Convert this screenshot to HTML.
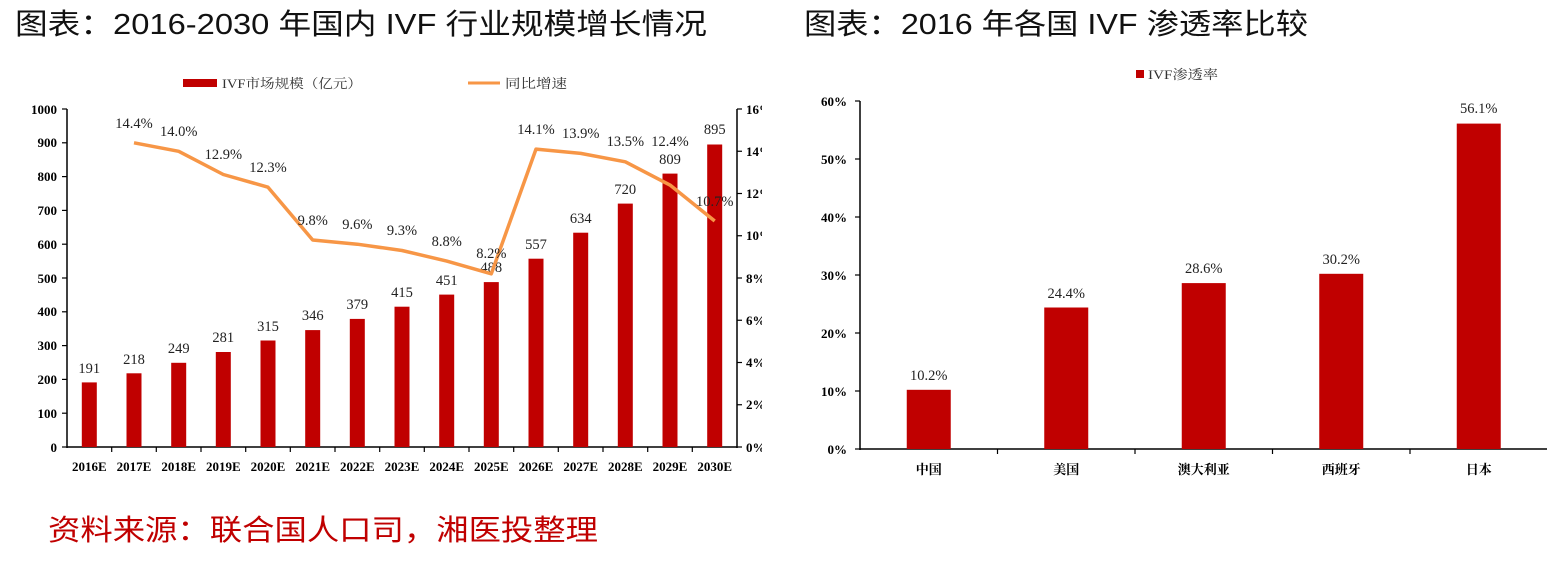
<!DOCTYPE html>
<html><head><meta charset="utf-8"><style>
body{margin:0;background:#fff;width:1556px;height:564px;overflow:hidden}
svg{display:block}
.t{font-family:"Liberation Sans","Noto Sans CJK SC",sans-serif}
.s{font-family:"Liberation Serif","Noto Serif CJK SC",serif}
.n{font-family:"Liberation Serif","Noto Serif CJK SC",serif}
</style></head><body>
<svg width="1556" height="564" xmlns="http://www.w3.org/2000/svg">
<defs><clipPath id="cl"><rect x="0" y="0" width="762" height="564"/></clipPath></defs>
<text class="t" x="15" y="34" font-size="29" fill="#111" textLength="692" lengthAdjust="spacingAndGlyphs">图表：2016-2030 年国内 IVF 行业规模增长情况</text>
<text class="t" x="804" y="34" font-size="29" fill="#111" textLength="504" lengthAdjust="spacingAndGlyphs">图表：2016 年各国 IVF 渗透率比较</text>
<text class="t" x="48" y="540" font-size="29" fill="#c00000" textLength="550" lengthAdjust="spacingAndGlyphs">资料来源：联合国人口司，湘医投整理</text>

<rect x="183" y="79" width="34" height="8" fill="#c00000"/>
<text class="s" x="222" y="88" font-size="13" fill="#333" textLength="140" lengthAdjust="spacingAndGlyphs">IVF市场规模（亿元）</text>
<line x1="468" y1="83" x2="500" y2="83" stroke="#f79646" stroke-width="3"/>
<text class="s" x="505" y="88" font-size="13" fill="#333" textLength="62" lengthAdjust="spacingAndGlyphs">同比增速</text>

<g clip-path="url(#cl)">
<g stroke="#000" stroke-width="1.5">
<line x1="67" y1="109" x2="67" y2="448"/>
<line x1="67" y1="447" x2="737" y2="447"/>
<line x1="737" y1="109" x2="737" y2="448"/>
</g>
<g stroke="#000" stroke-width="1.2">
<line x1="62" y1="447" x2="67" y2="447"/><line x1="62" y1="413.2" x2="67" y2="413.2"/><line x1="62" y1="379.4" x2="67" y2="379.4"/><line x1="62" y1="345.6" x2="67" y2="345.6"/><line x1="62" y1="311.8" x2="67" y2="311.8"/><line x1="62" y1="278" x2="67" y2="278"/><line x1="62" y1="244.2" x2="67" y2="244.2"/><line x1="62" y1="210.4" x2="67" y2="210.4"/><line x1="62" y1="176.6" x2="67" y2="176.6"/><line x1="62" y1="142.8" x2="67" y2="142.8"/><line x1="62" y1="109" x2="67" y2="109"/>
<line x1="737" y1="447" x2="742" y2="447"/><line x1="737" y1="404.75" x2="742" y2="404.75"/><line x1="737" y1="362.5" x2="742" y2="362.5"/><line x1="737" y1="320.25" x2="742" y2="320.25"/><line x1="737" y1="278" x2="742" y2="278"/><line x1="737" y1="235.75" x2="742" y2="235.75"/><line x1="737" y1="193.5" x2="742" y2="193.5"/><line x1="737" y1="151.25" x2="742" y2="151.25"/><line x1="737" y1="109" x2="742" y2="109"/>
<line x1="111.7" y1="447" x2="111.7" y2="452"/><line x1="156.3" y1="447" x2="156.3" y2="452"/><line x1="201" y1="447" x2="201" y2="452"/><line x1="245.7" y1="447" x2="245.7" y2="452"/><line x1="290.3" y1="447" x2="290.3" y2="452"/><line x1="335" y1="447" x2="335" y2="452"/><line x1="379.7" y1="447" x2="379.7" y2="452"/><line x1="424.3" y1="447" x2="424.3" y2="452"/><line x1="469" y1="447" x2="469" y2="452"/><line x1="513.7" y1="447" x2="513.7" y2="452"/><line x1="558.3" y1="447" x2="558.3" y2="452"/><line x1="603" y1="447" x2="603" y2="452"/><line x1="647.7" y1="447" x2="647.7" y2="452"/><line x1="692.3" y1="447" x2="692.3" y2="452"/>
</g>
<g class="n" font-size="13" font-weight="bold" text-anchor="end" fill="#000">
<text x="57" y="452">0</text><text x="57" y="418">100</text><text x="57" y="384">200</text><text x="57" y="350">300</text><text x="57" y="316">400</text><text x="57" y="283">500</text><text x="57" y="249">600</text><text x="57" y="215">700</text><text x="57" y="181">800</text><text x="57" y="147">900</text><text x="57" y="114">1000</text>
</g>
<g class="n" font-size="13" font-weight="bold" fill="#000">
<text x="746" y="452">0%</text><text x="746" y="409">2%</text><text x="746" y="367">4%</text><text x="746" y="325">6%</text><text x="746" y="283">8%</text><text x="746" y="240">10%</text><text x="746" y="198">12%</text><text x="746" y="156">14%</text><text x="746" y="114">16%</text>
</g>
<g class="n" font-size="13" font-weight="bold" text-anchor="middle" fill="#000">
<text x="89.3" y="471">2016E</text><text x="134" y="471">2017E</text><text x="178.7" y="471">2018E</text><text x="223.3" y="471">2019E</text><text x="268" y="471">2020E</text><text x="312.7" y="471">2021E</text><text x="357.3" y="471">2022E</text><text x="402" y="471">2023E</text><text x="446.7" y="471">2024E</text><text x="491.3" y="471">2025E</text><text x="536" y="471">2026E</text><text x="580.7" y="471">2027E</text><text x="625.3" y="471">2028E</text><text x="670" y="471">2029E</text><text x="714.7" y="471">2030E</text>
</g>
<g fill="#c00000">
<rect x="81.8" y="382.4" width="15" height="64.6"/><rect x="126.5" y="373.3" width="15" height="73.7"/><rect x="171.2" y="362.8" width="15" height="84.2"/><rect x="215.8" y="352" width="15" height="95"/><rect x="260.5" y="340.5" width="15" height="106.5"/><rect x="305.2" y="330.1" width="15" height="116.9"/><rect x="349.8" y="318.9" width="15" height="128.1"/><rect x="394.5" y="306.7" width="15" height="140.3"/><rect x="439.2" y="294.6" width="15" height="152.4"/><rect x="483.8" y="282.1" width="15" height="164.9"/><rect x="528.5" y="258.7" width="15" height="188.3"/><rect x="573.2" y="232.7" width="15" height="214.3"/><rect x="617.8" y="203.6" width="15" height="243.4"/><rect x="662.5" y="173.6" width="15" height="273.4"/><rect x="707.2" y="144.5" width="15" height="302.5"/>
</g>
<g class="n" font-size="14.5" text-anchor="middle" fill="#222">
<text x="89.3" y="373">191</text><text x="134" y="364">218</text><text x="178.7" y="353">249</text><text x="223.3" y="342">281</text><text x="268" y="331">315</text><text x="312.7" y="320">346</text><text x="357.3" y="309">379</text><text x="402" y="297">415</text><text x="446.7" y="285">451</text><text x="491.3" y="272">488</text><text x="536" y="249">557</text><text x="580.7" y="223">634</text><text x="625.3" y="194">720</text><text x="670" y="164">809</text><text x="714.7" y="134">895</text>
</g>
<polyline fill="none" stroke="#f79646" stroke-width="3.5" stroke-linejoin="round" points="134,142.8 178.7,151.3 223.3,174.5 268,187.2 312.7,240 357.3,244.2 402,250.5 446.7,261.1 491.3,273.8 536,149.1 580.7,153.4 625.3,161.8 670,185.05 714.7,221"/>
<g class="n" font-size="14.5" text-anchor="middle" fill="#222">
<text x="134" y="128">14.4%</text><text x="178.7" y="136">14.0%</text><text x="223.3" y="159">12.9%</text><text x="268" y="172">12.3%</text><text x="312.7" y="225">9.8%</text><text x="357.3" y="229">9.6%</text><text x="402" y="235">9.3%</text><text x="446.7" y="246">8.8%</text><text x="491.3" y="258">8.2%</text><text x="536" y="134">14.1%</text><text x="580.7" y="138">13.9%</text><text x="625.3" y="146">13.5%</text><text x="670" y="146">12.4%</text><text x="714.7" y="206">10.7%</text>
</g>
</g>

<rect x="1136" y="70" width="8" height="8" fill="#c00000"/>
<text class="s" x="1148" y="79" font-size="13" fill="#333" textLength="70" lengthAdjust="spacingAndGlyphs">IVF渗透率</text>
<g stroke="#000" stroke-width="1.5">
<line x1="860" y1="101" x2="860" y2="450"/>
<line x1="860" y1="449" x2="1547" y2="449"/>
</g>
<g stroke="#000" stroke-width="1.2">
<line x1="855" y1="449" x2="860" y2="449"/><line x1="855" y1="391" x2="860" y2="391"/><line x1="855" y1="333" x2="860" y2="333"/><line x1="855" y1="275" x2="860" y2="275"/><line x1="855" y1="217" x2="860" y2="217"/><line x1="855" y1="159" x2="860" y2="159"/><line x1="855" y1="101" x2="860" y2="101"/>
<line x1="997.5" y1="449" x2="997.5" y2="454"/><line x1="1135" y1="449" x2="1135" y2="454"/><line x1="1272.5" y1="449" x2="1272.5" y2="454"/><line x1="1410" y1="449" x2="1410" y2="454"/>
</g>
<g class="n" font-size="13" font-weight="bold" text-anchor="end" fill="#000">
<text x="847" y="454">0%</text><text x="847" y="396">10%</text><text x="847" y="338">20%</text><text x="847" y="280">30%</text><text x="847" y="222">40%</text><text x="847" y="164">50%</text><text x="847" y="106">60%</text>
</g>
<g class="s" font-size="13" font-weight="bold" text-anchor="middle" fill="#000">
<text x="928.75" y="474">中国</text><text x="1066.25" y="474">美国</text><text x="1203.75" y="474">澳大利亚</text><text x="1341.25" y="474">西班牙</text><text x="1478.75" y="474">日本</text>
</g>
<g fill="#c00000">
<rect x="906.75" y="389.8" width="44" height="59.2"/><rect x="1044.25" y="307.5" width="44" height="141.5"/><rect x="1181.75" y="283.1" width="44" height="165.9"/><rect x="1319.25" y="273.8" width="44" height="175.2"/><rect x="1456.75" y="123.6" width="44" height="325.4"/>
</g>
<g class="n" font-size="14.5" text-anchor="middle" fill="#222">
<text x="928.75" y="380">10.2%</text><text x="1066.25" y="298">24.4%</text><text x="1203.75" y="273">28.6%</text><text x="1341.25" y="264">30.2%</text><text x="1478.75" y="113">56.1%</text>
</g>
</svg>
</body></html>
